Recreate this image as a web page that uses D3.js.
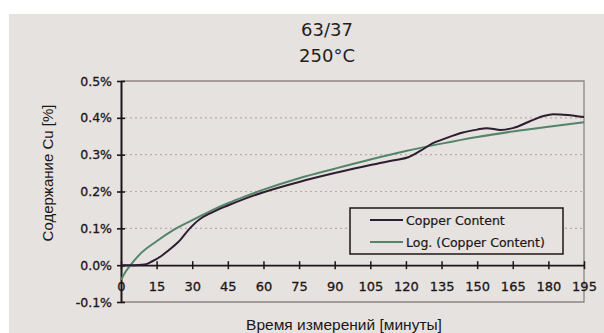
<!DOCTYPE html>
<html>
<head>
<meta charset="utf-8">
<script src="https://cdn.jsdelivr.net/npm/d3@7"></script>
<style>
  body { margin: 0; background: #ffffff; }
  svg { display: block; }
</style>
</head>
<body>
<svg id="canvas" width="604" height="333"></svg>
<script>
// ###############
// chart data
// ###############
var titleLines = ["63/37", "250°C"];
var xTicks = [0, 15, 30, 45, 60, 75, 90, 105, 120, 135, 150, 165, 180, 195];
var yTicks = [-0.1, 0.0, 0.1, 0.2, 0.3, 0.4, 0.5];
var seriesNames = ["Copper Content", "Log. (Copper Content)"];

// measured copper content, [minutes, %]
var copperTime  = [0, 5, 10, 13, 17, 20, 24, 29, 33, 38, 45, 52, 60, 75, 90, 105, 115, 121, 126, 131, 137, 144, 150, 154, 160, 165, 172, 178, 182, 188, 195];
var copperValue = [0, 0, 0.002, 0.01, 0.025, 0.04, 0.062, 0.1, 0.124, 0.142, 0.162, 0.18, 0.198, 0.226, 0.25, 0.272, 0.285, 0.293, 0.31, 0.33, 0.345, 0.36, 0.368, 0.372, 0.367, 0.372, 0.39, 0.405, 0.41, 0.408, 0.402];

// logarithmic trend line, [minutes, %]
var trendTime  = [0, 2, 4, 8, 15, 22, 30, 38, 45, 52, 60, 75, 90, 105, 120, 135, 150, 165, 180, 195];
var trendValue = [-0.04, -0.017, 0.0, 0.03, 0.065, 0.095, 0.122, 0.148, 0.168, 0.186, 0.205, 0.236, 0.262, 0.287, 0.31, 0.33, 0.348, 0.363, 0.376, 0.388];

// ###############
// layout
// ###############
var svg = d3.select("#canvas");
var bg = "#e6e2df";
var ink = "#1c1618";
var plot = {left: 121, right: 584, top: 81, bottom: 302};

svg.append("rect")
    .attr("x", 9).attr("y", 14)
    .attr("width", 604 - 9).attr("height", 333 - 14)
    .attr("fill", bg);

var x = d3.scaleLinear().domain([0, 195]).range([plot.left, plot.right]);
var y = d3.scaleLinear().domain([-0.1, 0.5]).range([plot.bottom, plot.top]);

// title
svg.selectAll("text.title")
    .data(titleLines)
  .enter().append("text")
    .attr("class", "title")
    .attr("x", 327)
    .attr("y", function(d, i) { return 36 + i * 26; })
    .attr("text-anchor", "middle")
    .attr("font-family", "DejaVu Sans, sans-serif")
    .attr("font-size", 18)
    .attr("fill", "#241e20")
    .text(function(d) { return d; });

// dotted gridlines (not the frame ones)
svg.append("g")
  .selectAll("line")
  .data(yTicks.filter(function(d) { return d > 0 && d < 0.5; }))
  .enter().append("line")
    .attr("x1", plot.left + 4).attr("x2", plot.right)
    .attr("y1", function(d) { return y(d); })
    .attr("y2", function(d) { return y(d); })
    .attr("stroke", "#b9abab")
    .attr("stroke-width", 1.2)
    .attr("stroke-dasharray", "2,3");

// frame: top, right, bottom in grey
svg.append("path")
    .attr("d", "M" + plot.left + "," + plot.top + "H" + plot.right + "V" + plot.bottom + "H" + plot.left)
    .attr("fill", "none")
    .attr("stroke", "#8d8585")
    .attr("stroke-width", 1.3);

// y axis with crossing ticks
var yAxis = d3.axisLeft(y)
    .tickValues(yTicks)
    .tickSize(0)
    .tickPadding(9)
    .tickFormat(function(d) { return d.toFixed(1) + "%"; });

var yg = svg.append("g")
    .attr("transform", "translate(" + plot.left + ",0)")
    .call(yAxis);
yg.select(".domain").attr("stroke", ink).attr("stroke-width", 2);
yg.selectAll(".tick").append("line")
    .attr("x1", -4).attr("x2", 4)
    .attr("stroke", ink).attr("stroke-width", 1.6);
yg.selectAll("text")
    .attr("font-family", "DejaVu Sans, sans-serif")
    .attr("font-size", 12.5)
    .attr("fill", ink)
    .attr("stroke", ink)
    .attr("stroke-width", 0.3);

// x axis along zero line, crossing ticks
var xAxis = d3.axisBottom(x)
    .tickValues(xTicks)
    .tickSize(0)
    .tickPadding(17);

var xg = svg.append("g")
    .attr("transform", "translate(0," + y(0) + ")")
    .call(xAxis);
xg.select(".domain").attr("stroke", ink).attr("stroke-width", 1.8);
xg.selectAll(".tick").append("line")
    .attr("y1", -4).attr("y2", 4)
    .attr("stroke", ink).attr("stroke-width", 1.5);
xg.selectAll("text")
    .attr("font-family", "DejaVu Sans, sans-serif")
    .attr("font-size", 13)
    .attr("fill", ink)
    .attr("stroke", ink)
    .attr("stroke-width", 0.3);

// axis titles
svg.append("text")
    .attr("transform", "translate(53,173) rotate(-90)")
    .attr("text-anchor", "middle")
    .attr("font-family", "Liberation Sans Narrow, Arial Narrow, Liberation Sans, sans-serif")
    .attr("font-size", 15)
    .attr("fill", ink)
    .text("Содержание Cu [%]");

svg.append("text")
    .attr("x", 344).attr("y", 330)
    .attr("text-anchor", "middle")
    .attr("font-family", "Liberation Sans Narrow, Arial Narrow, Liberation Sans, sans-serif")
    .attr("font-size", 15.5)
    .attr("fill", ink)
    .text("Время измерений [минуты]");

// ###############
// lines
// ###############
var line = d3.line()
    .x(function(d) { return x(d[0]); })
    .y(function(d) { return y(d[1]); })
    .curve(d3.curveMonotoneX);

var trendData = d3.zip(trendTime, trendValue);
var copperData = d3.zip(copperTime, copperValue);

svg.append("path")
    .datum(trendData)
    .attr("d", line)
    .attr("fill", "none")
    .attr("stroke", "#54846a")
    .attr("stroke-width", 2);

svg.append("path")
    .datum(copperData)
    .attr("d", line)
    .attr("fill", "none")
    .attr("stroke", "#2d1d30")
    .attr("stroke-width", 2);

// ###############
// legend
// ###############
var legend = svg.append("g").attr("transform", "translate(350,208)");
legend.append("rect")
    .attr("width", 213).attr("height", 46)
    .attr("fill", bg)
    .attr("stroke", ink)
    .attr("stroke-width", 1.5);

var legendColors = ["#2d1d30", "#54846a"];
var item = legend.selectAll("g.item")
    .data(seriesNames)
  .enter().append("g")
    .attr("class", "item")
    .attr("transform", function(d, i) { return "translate(0," + (12 + i * 22) + ")"; });
item.append("line")
    .attr("x1", 20).attr("x2", 53)
    .attr("stroke", function(d, i) { return legendColors[i]; })
    .attr("stroke-width", 2);
item.append("text")
    .attr("x", 56).attr("y", 5)
    .attr("font-family", "DejaVu Sans, sans-serif")
    .attr("font-size", 12.5)
    .attr("fill", ink)
    .attr("stroke", ink)
    .attr("stroke-width", 0.2)
    .text(function(d) { return d; });
</script>
</body>
</html>
